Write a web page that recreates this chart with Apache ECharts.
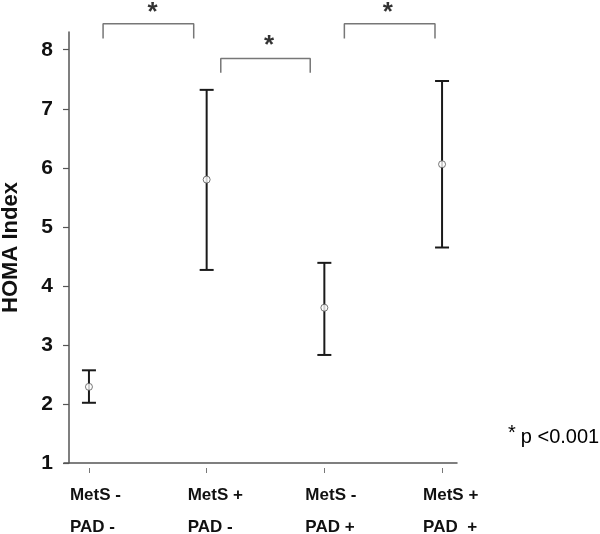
<!DOCTYPE html>
<html>
<head>
<meta charset="utf-8">
<script src="https://cdn.jsdelivr.net/npm/echarts@6/dist/echarts.min.js"></script>
<style>html,body{margin:0;padding:0;background:#fff;}#c{width:600px;height:534px;}</style>
</head>
<body>
<div id="c"></div>
<script>
// ---- data ----
const categories = ['MetS -\nPAD -', 'MetS +\nPAD -', 'MetS -\nPAD +', 'MetS +\nPAD  +'];
const means = [2.29, 5.80, 3.63, 6.06];
const upper = [2.57, 7.32, 4.39, 7.47];
const lower = [2.02, 4.27, 2.83, 4.65];
const yTicks = [1, 2, 3, 4, 5, 6, 7, 8];
const xTicks = [1, 2, 3, 4];
// significance brackets (category units, y units)
const bracket1 = [[1.12, 8.19], [1.12, 8.44], [1.89, 8.44], [1.89, 8.19]];
const bracket2 = [[2.12, 7.61], [2.12, 7.85], [2.88, 7.85], [2.88, 7.61]];
const bracket3 = [[3.17, 8.19], [3.17, 8.44], [3.94, 8.44], [3.94, 8.19]];
const stars = [[1.54, 8.62], [2.53, 8.07], [3.54, 8.62]];
const pNote = 'p <0.001';

const chart = echarts.init(document.getElementById('c'), null, {renderer: 'canvas'});
const font = 'Liberation Sans, Arial, sans-serif';
const axisGray = '#555';

const errData = xTicks.map((x, i) => [x, lower[i], upper[i]]);
const meanData = xTicks.map((x, i) => [x, means[i]]);

function bracketSeries(d) {
  return {
    type: 'line', data: d, symbol: 'none', clip: false, silent: true,
    lineStyle: {color: '#777', width: 1.5}, z: 3, animation: false
  };
}

chart.setOption({
  animation: false,
  title: {
    text: '{s|*} {p|' + pNote + '}',
    left: 503, top: 418,
    textStyle: {
      fontWeight: 'normal',
      rich: {
        s: {fontFamily: font, fontSize: 20, fontWeight: 'normal', color: '#000', verticalAlign: 'top', padding: [0, 0, 8, 0]},
        p: {fontFamily: font, fontSize: 20, fontWeight: 'normal', color: '#000'}
      }
    }
  },
  grid: {left: 64, right: 143, top: 32, bottom: 71, containLabel: false, outerBoundsMode: 'none'},
  xAxis: [{
    type: 'value', min: 0.788, max: 4.127,
    axisLine: {show: true, lineStyle: {color: axisGray, width: 1.5}},
    axisTick: {show: false},
    splitLine: {show: false},
    axisLabel: {
      customValues: xTicks,
      formatter: v => categories[Math.round(v) - 1],
      fontFamily: font, fontSize: 17, fontWeight: 'bold', color: '#111',
      lineHeight: 32, align: 'left', padding: [0, 0, 0, -19], margin: 16
    }
  }, {
    type: 'value', min: 0.788, max: 4.127, position: 'bottom', offset: 5,
    axisLine: {show: false},
    axisTick: {show: true, customValues: xTicks, length: 5, lineStyle: {color: '#777', width: 1}},
    axisLabel: {show: false},
    splitLine: {show: false}
  }],
  yAxis: {
    type: 'value', min: 1, max: 8.3, offset: -5,
    name: 'HOMA Index', nameLocation: 'middle', nameGap: 47, nameRotate: 90,
    nameTextStyle: {fontFamily: font, fontSize: 22, fontWeight: 'bold', color: '#111'},
    axisLine: {show: true, lineStyle: {color: axisGray, width: 1.5}},
    axisTick: {show: true, customValues: yTicks, length: 6, lineStyle: {color: axisGray, width: 1.2}},
    axisLabel: {customValues: yTicks, fontFamily: font, fontSize: 21, fontWeight: 'bold', color: '#111', margin: 16},
    splitLine: {show: false}
  },
  series: [
    {
      type: 'custom', data: errData, z: 4,
      renderItem: function (params, api) {
        const x = api.value(0);
        const lo = api.coord([x, api.value(1)]);
        const hi = api.coord([x, api.value(2)]);
        const w = 7;
        const st = {stroke: '#1a1a1a', lineWidth: 2};
        return {type: 'group', children: [
          {type: 'line', shape: {x1: lo[0], y1: lo[1], x2: hi[0], y2: hi[1]}, style: st},
          {type: 'line', shape: {x1: lo[0] - w, y1: lo[1], x2: lo[0] + w, y2: lo[1]}, style: st},
          {type: 'line', shape: {x1: hi[0] - w, y1: hi[1], x2: hi[0] + w, y2: hi[1]}, style: st}
        ]};
      }
    },
    {
      type: 'scatter', data: meanData, symbol: 'circle', symbolSize: 7, z: 5,
      itemStyle: {color: '#fff', borderColor: '#555', borderWidth: 1}
    },
    bracketSeries(bracket1),
    bracketSeries(bracket2),
    bracketSeries(bracket3),
    {
      type: 'scatter', data: stars, symbol: 'circle', symbolSize: 1, clip: false, z: 6,
      itemStyle: {color: 'rgba(0,0,0,0)'},
      label: {show: true, formatter: '*', position: 'inside', fontFamily: font, fontSize: 26, fontWeight: 'bold', color: '#000'}
    }
  ]
});
</script>
</body>
</html>
